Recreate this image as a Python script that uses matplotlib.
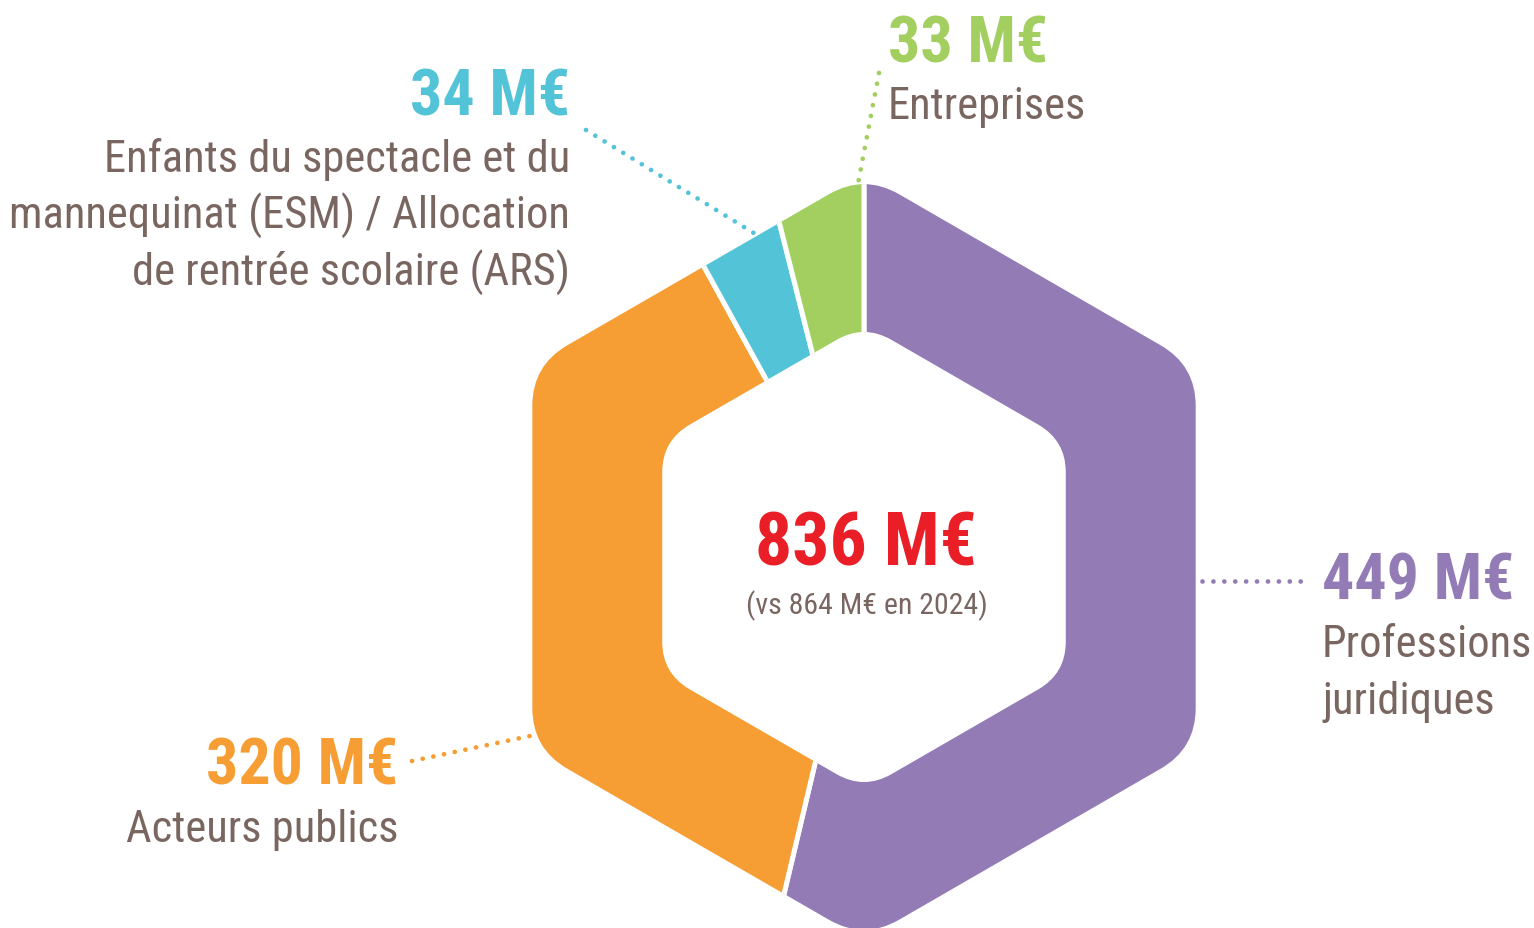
import numpy as np
import matplotlib
matplotlib.use("Agg")
import matplotlib.pyplot as plt
from matplotlib.path import Path

# ---- data ----
categories = [
    "Professions\njuridiques",
    "Acteurs publics",
    "Enfants du spectacle et du\nmannequinat (ESM) / Allocation\nde rentrée scolaire (ARS)",
    "Entreprises",
]
values = [449, 320, 34, 33]
value_labels = ["449 M€", "320 M€", "34 M€", "33 M€"]
colors = ["#937BB6", "#F69D33", "#53C4D8", "#A3CE60"]
total_label = "836 M€"
previous_label = "(vs 864 M€ en 2024)"

# ---- layout ----
W, H = 1534, 929
FAM = ["Roboto Condensed", "DejaVu Sans"]
BROWN = "#7A6660"
RED = "#E91E27"

def Y(y_px):
    return H - y_px

cx, cy = 864, Y(558)
R_OUT, R_IN = 383, 233
RAD_OUT, RAD_IN = 70, 55

fig = plt.figure(figsize=(W / 100, H / 100), dpi=100)
ax = fig.add_axes([0, 0, 1, 1])


def rounded_hex(R, r, reverse=False):
    angs = np.deg2rad(90 + 60 * np.arange(6))
    verts = np.c_[cx + R * np.cos(angs), cy + R * np.sin(angs)]
    if reverse:
        verts = verts[::-1]
    d = r / np.tan(np.pi / 3)
    pts, codes = [], []
    n = len(verts)
    for i in range(n):
        v, prev, nxt = verts[i], verts[i - 1], verts[(i + 1) % n]
        a = v + (prev - v) / np.linalg.norm(prev - v) * d
        b = v + (nxt - v) / np.linalg.norm(nxt - v) * d
        pts.append(a)
        codes.append(Path.MOVETO if i == 0 else Path.LINETO)
        pts += [v, b]
        codes += [Path.CURVE3, Path.CURVE3]
    pts.append(pts[0])
    codes.append(Path.CLOSEPOLY)
    return pts, codes


p1, c1 = rounded_hex(R_OUT, RAD_OUT)
p2, c2 = rounded_hex(R_IN, RAD_IN, reverse=True)
ring = Path(np.array(p1 + p2, dtype=float), c1 + c2)

wedges, _ = ax.pie(values, colors=colors, startangle=90, counterclock=False,
                   radius=520, center=(cx, cy), frame=True,
                   wedgeprops=dict(edgecolor="white", linewidth=3.6))
ax.set_xlim(0, W)
ax.set_ylim(0, H)
ax.set_aspect("equal")
ax.axis("off")
for w in wedges:
    w.set_clip_on(True)
    w.set_clip_path(ring, ax.transData)

# ---- leader lines (dotted) ----
leaders = [
    ((1202, 582), (1304, 582)),
    ((412, 762), (530, 737)),
    ((586, 131), (757, 236)),
    ((879, 74), (857, 190)),
]
for (p, q), col in zip(leaders, colors):
    ax.plot([p[0], q[0]], [Y(p[1]), Y(q[1])], color=col, lw=3.4,
            linestyle=(0, (0.01, 2.3)), dash_capstyle="round")

# ---- labels ----
anchors = [(1322, 600, "left"), (398, 785, "right"),
           (570, 115, "right"), (888, 62, "left")]
VAL_FS = 46
CAT_FS = 32
PITCH = 57
for (x, yb, ha), vl, cat, col in zip(anchors, value_labels, categories, colors):
    ax.text(x, Y(yb), vl, color=col, fontsize=VAL_FS, fontweight="bold",
            family=FAM, ha=ha, va="baseline")
    for k, line in enumerate(cat.split("\n")):
        ax.text(x, Y(yb + PITCH + k * PITCH), line, color=BROWN, fontsize=CAT_FS,
                family=FAM, ha=ha, va="baseline")

ax.text(866, Y(565), total_label, color=RED, fontsize=53, fontweight="bold",
        family=FAM, ha="center", va="baseline")
ax.text(867, Y(614), previous_label, color=BROWN, fontsize=21.5,
        family=FAM, ha="center", va="baseline")

fig.savefig("out.png", dpi=100, facecolor="white")
